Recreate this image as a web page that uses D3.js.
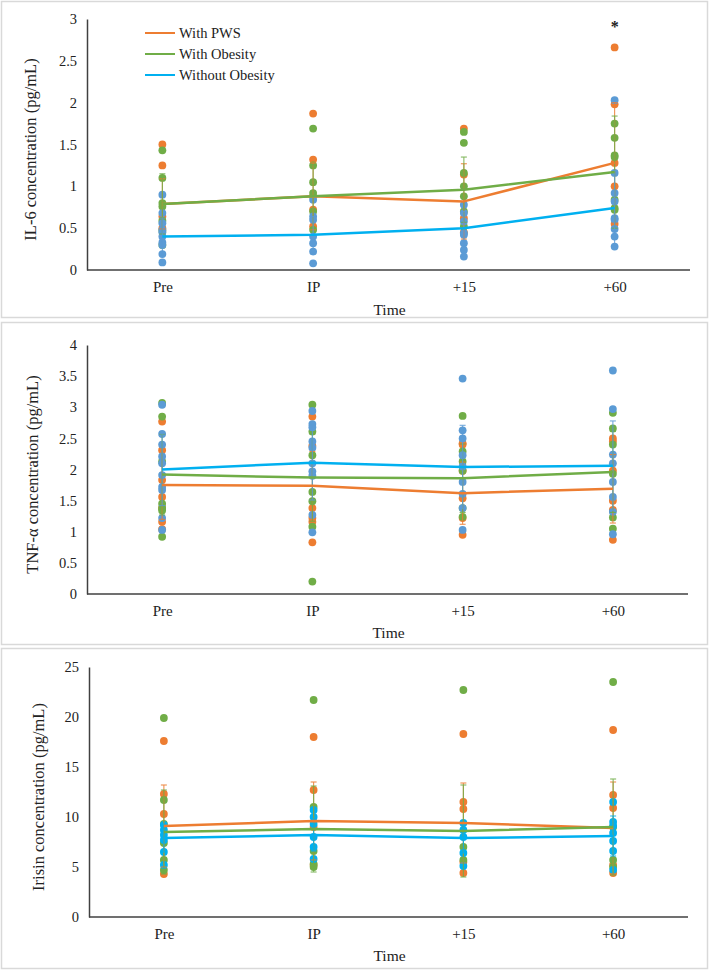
<!DOCTYPE html>
<html>
<head>
<meta charset="utf-8">
<script src="https://cdn.jsdelivr.net/npm/d3@7"></script>
<style>
  html, body { margin: 0; padding: 0; background: #fff; }
  svg { display: block; font-family: "Liberation Serif", "Times New Roman", serif; }
</style>
</head>
<body>
<svg id="chart" width="709" height="970"></svg>
<script>
// ---------- DATA ----------
const categories = ["Pre", "IP", "+15", "+60"];
const seriesNames = ["With PWS", "With Obesity", "Without Obesity"];

// Panel 1: IL-6
const il6Mean = {
  "With PWS": [0.79, 0.88, 0.82, 1.28],
  "With Obesity": [0.79, 0.88, 0.96, 1.17],
  "Without Obesity": [0.40, 0.42, 0.50, 0.74]
};
const il6Sd = {
  "With PWS": [0.30, 0.40, 0.45, 0.72],
  "With Obesity": [0.36, 0.38, 0.39, 0.67],
  "Without Obesity": [0.22, 0.22, 0.20, 0.45]
};
const il6Points = {
  "With PWS": [
    [1.50, 1.25, 0.64, 0.50],
    [1.87, 1.32, 0.88, 0.72, 0.52],
    [1.69, 1.14, 0.62, 0.45],
    [2.66, 1.98, 1.28, 1.00, 0.55]
  ],
  "With Obesity": [
    [1.43, 1.10, 0.80, 0.76, 0.59, 0.47, 0.30],
    [1.69, 1.25, 1.05, 0.92, 0.70, 0.48],
    [1.65, 1.52, 1.16, 1.00, 0.88, 0.70, 0.52],
    [1.75, 1.58, 1.37, 1.35, 0.84, 0.74, 0.72]
  ],
  "Without Obesity": [
    [0.90, 0.68, 0.56, 0.48, 0.45, 0.40, 0.33, 0.30, 0.19, 0.09],
    [0.84, 0.64, 0.60, 0.40, 0.32, 0.22, 0.08],
    [0.78, 0.68, 0.58, 0.44, 0.42, 0.32, 0.24, 0.16],
    [2.03, 1.16, 0.92, 0.82, 0.62, 0.60, 0.49, 0.40, 0.28]
  ]
};
const il6Ticks = [0, 0.5, 1, 1.5, 2, 2.5, 3];

// Panel 2: TNF-alpha
const tnfMean = {
  "With PWS": [1.75, 1.74, 1.62, 1.69],
  "With Obesity": [1.92, 1.87, 1.86, 1.96],
  "Without Obesity": [2.00, 2.11, 2.04, 2.06]
};
const tnfSd = {
  "With PWS": [0.55, 0.55, 0.50, 0.55],
  "With Obesity": [0.65, 0.70, 0.55, 0.65],
  "Without Obesity": [0.58, 0.60, 0.67, 0.72]
};
const tnfPoints = {
  "With PWS": [
    [2.77, 2.31, 1.83, 1.56, 1.38, 1.16, 1.04],
    [2.85, 2.38, 1.38, 1.22, 1.16, 0.83],
    [2.42, 2.40, 1.98, 1.54, 1.22, 0.95],
    [2.50, 2.45, 1.98, 1.50, 1.35, 0.87]
  ],
  "With Obesity": [
    [3.07, 2.85, 2.13, 1.45, 1.38, 1.34, 0.92],
    [3.04, 2.61, 2.23, 1.64, 1.49, 1.08, 0.20],
    [2.86, 2.29, 2.13, 1.98, 1.38, 1.24],
    [2.91, 2.66, 2.40, 1.93, 1.23, 1.05]
  ],
  "Without Obesity": [
    [3.04, 2.57, 2.40, 2.21, 2.10, 1.91, 1.72, 1.67, 1.22, 1.03],
    [2.94, 2.73, 2.68, 2.45, 2.35, 2.10, 1.97, 1.90, 1.27, 0.99],
    [3.46, 2.63, 2.50, 2.23, 2.05, 1.80, 1.61, 1.38, 1.03],
    [3.59, 2.97, 2.24, 2.10, 1.80, 1.56, 1.32, 0.96]
  ]
};
const tnfTicks = [0, 0.5, 1, 1.5, 2, 2.5, 3, 3.5, 4];

// Panel 3: Irisin
const irisinMean = {
  "With PWS": [9.1, 9.6, 9.4, 8.9],
  "With Obesity": [8.5, 8.8, 8.6, 9.0],
  "Without Obesity": [7.9, 8.2, 7.9, 8.1]
};
const irisinSd = {
  "With PWS": [4.1, 3.9, 4.0, 4.6],
  "With Obesity": [4.2, 4.3, 4.6, 4.8],
  "Without Obesity": [1.4, 1.6, 1.5, 2.0]
};
const irisinPoints = {
  "With PWS": [
    [17.6, 12.3, 10.3, 4.3],
    [18.0, 12.7, 9.0, 5.2],
    [18.3, 11.5, 10.8, 5.5, 4.4],
    [18.7, 12.2, 10.9, 5.2, 4.4]
  ],
  "With Obesity": [
    [19.9, 11.7, 9.3, 7.4, 5.7, 4.7],
    [21.7, 11.0, 6.6, 5.3, 5.0],
    [22.7, 7.0, 5.7],
    [23.5, 9.0, 5.7, 5.0]
  ],
  "Without Obesity": [
    [9.2, 8.7, 8.2, 7.7, 6.5, 5.2],
    [10.7, 10.0, 9.3, 8.0, 7.0, 5.8],
    [9.4, 8.7, 8.0, 6.4, 5.1],
    [11.5, 9.5, 9.1, 8.4, 7.6, 6.6, 4.7]
  ]
};
const irisinTicks = [0, 5, 10, 15, 20, 25];

// ---------- STYLE ----------
const lineColors = { "With PWS": "#ED7D31", "With Obesity": "#70AD47", "Without Obesity": "#00B0F0" };

const panels = [
  { mean: il6Mean, sd: il6Sd, points: il6Points, ticks: il6Ticks, title: "IL-6 concentration (pg/mL)",
    box: [1, 1, 706, 316], x0: 87, x1: 690, yTop: 19, yBot: 270, titleX: 36, timeY: 315,
    dotBlue: "#5B9BD5", legend: true, star: "+60" },
  { mean: tnfMean, sd: tnfSd, points: tnfPoints, ticks: tnfTicks, title: "TNF-\u03b1 concentration (pg/mL)",
    box: [1, 322, 706, 322], x0: 87, x1: 688, yTop: 345, yBot: 594, titleX: 38, timeY: 638,
    dotBlue: "#5B9BD5", legend: false },
  { mean: irisinMean, sd: irisinSd, points: irisinPoints, ticks: irisinTicks, title: "Irisin concentration (pg/mL)",
    box: [1, 648, 706, 320], x0: 89, x1: 688, yTop: 667, yBot: 917, titleX: 44, timeY: 961,
    dotBlue: "#00B0F0", legend: false }
];

const svg = d3.select("#chart");

panels.forEach(p => {
  const g = svg.append("g");
  g.append("rect")
    .attr("x", p.box[0] + 0.5).attr("y", p.box[1] + 0.5)
    .attr("width", p.box[2]).attr("height", p.box[3])
    .attr("fill", "#fff").attr("stroke", "#d9d9d9").attr("stroke-width", 1.5);

  const x = d3.scalePoint().domain(categories).range([p.x0, p.x1]).padding(0.5);
  const yMax = p.ticks[p.ticks.length - 1];
  const y = d3.scaleLinear().domain([0, yMax]).range([p.yBot, p.yTop]);

  const dotColor = { "With PWS": "#ED7D31", "With Obesity": "#70AD47", "Without Obesity": p.dotBlue };

  // y axis
  const yAx = g.append("g").attr("transform", `translate(${p.x0},0)`)
    .call(d3.axisLeft(y).tickValues(p.ticks).tickSize(0).tickPadding(10).tickFormat(d3.format("~g")));
  yAx.select(".domain").attr("stroke", "#404040").attr("stroke-width", 1.5);
  yAx.selectAll("text").attr("font-size", 14.5).attr("fill", "#222")
    .attr("font-family", "Liberation Serif, serif");

  // x axis
  const xAx = g.append("g").attr("transform", `translate(0,${p.yBot})`)
    .call(d3.axisBottom(x).tickSize(0).tickPadding(11));
  xAx.select(".domain").attr("d", `M${p.x0},0H${p.x1}`).attr("stroke", "#404040").attr("stroke-width", 1.5);
  xAx.selectAll("text").attr("font-size", 15).attr("fill", "#222")
    .attr("font-family", "Liberation Serif, serif");

  // axis titles
  g.append("text")
    .attr("transform", `translate(${p.titleX},${(p.yTop + p.yBot) / 2 + 5}) rotate(-90)`)
    .attr("text-anchor", "middle").attr("font-size", 16.5).attr("fill", "#222")
    .text(p.title);
  g.append("text")
    .attr("x", (p.x0 + p.x1) / 2 + 1).attr("y", p.timeY)
    .attr("text-anchor", "middle").attr("font-size", 15.5).attr("fill", "#222")
    .text("Time");

  // dots
  seriesNames.forEach(s => {
    const pts = [];
    p.points[s].forEach((arr, i) => arr.forEach(v => pts.push({ c: categories[i], v })));
    g.append("g").selectAll("circle").data(pts).join("circle")
      .attr("cx", d => x(d.c)).attr("cy", d => y(d.v)).attr("r", 3.9)
      .attr("fill", dotColor[s]);
  });

  // error bars
  seriesNames.forEach(s => {
    const eb = g.append("g").attr("stroke", lineColors[s] === "#00B0F0" ? p.dotBlue : lineColors[s])
      .attr("stroke-width", 1.1).attr("opacity", 0.85);
    categories.forEach((c, i) => {
      const m = p.mean[s][i], sd = p.sd[s][i];
      const hi = y(Math.min(m + sd, yMax)), lo = y(Math.max(m - sd, 0));
      const cx = x(c);
      eb.append("line").attr("x1", cx).attr("x2", cx).attr("y1", hi).attr("y2", lo);
      eb.append("line").attr("x1", cx - 3).attr("x2", cx + 3).attr("y1", hi).attr("y2", hi);
      eb.append("line").attr("x1", cx - 3).attr("x2", cx + 3).attr("y1", lo).attr("y2", lo);
    });
  });

  // mean lines
  const line = d3.line().x((d, i) => x(categories[i])).y(d => y(d));
  ["Without Obesity", "With PWS", "With Obesity"].forEach(s => {
    g.append("path").datum(p.mean[s]).attr("d", line)
      .attr("fill", "none").attr("stroke", lineColors[s]).attr("stroke-width", 2.5)
      .attr("stroke-linejoin", "round");
  });

  // significance star
  if (p.star) {
    g.append("text").attr("x", x(p.star)).attr("y", 32)
      .attr("text-anchor", "middle").attr("font-size", 16).attr("font-weight", "bold")
      .attr("fill", "#222").text("*");
  }

  // legend
  if (p.legend) {
    seriesNames.forEach((s, i) => {
      const ly = 33 + i * 21;
      g.append("line").attr("x1", 145).attr("x2", 175).attr("y1", ly).attr("y2", ly)
        .attr("stroke", lineColors[s]).attr("stroke-width", 2);
      g.append("text").attr("x", 179).attr("y", ly + 5).attr("font-size", 14.5)
        .attr("fill", "#222").text(s);
    });
  }
});
</script>
</body>
</html>
